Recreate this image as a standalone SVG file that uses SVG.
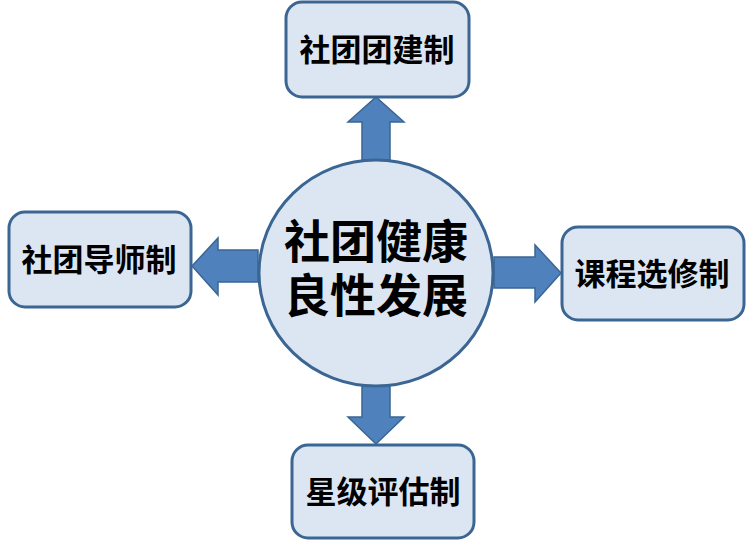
<svg xmlns="http://www.w3.org/2000/svg" width="756" height="541" viewBox="0 0 756 541">
<style>
.box{fill:#dce6f2;stroke:#3b6693;stroke-width:3}
.arr{fill:#4f81bd;stroke:#3b6693;stroke-width:1.5}
.t{font-family:"Noto Sans CJK SC","Noto Sans",sans-serif;font-weight:bold;fill:#000;text-anchor:middle}
.s{font-size:31px}
.c{font-size:46px}
</style>
<rect width="756" height="541" fill="#fff"/>
<g id="connectors">
<polygon class="arr" points="362,160 362,122 348,122 376,97 404,122 390,122 390,160"/>
<polygon class="arr" points="258,250 218,250 218,238 192,266 218,295 218,282 258,282"/>
<polygon class="arr" points="494,257 535,257 535,245 561,273 535,302 535,288 494,288"/>
<polygon class="arr" points="362,384 362,417 348,417 376,444 404,417 390,417 390,384"/>
</g>
<g id="center">
<ellipse class="box" cx="376" cy="273" rx="117" ry="113"/>
<text class="t c"><tspan x="376" y="258">社团健康</tspan><tspan x="376" y="312">良性发展</tspan></text>
</g>
<g id="top">
<rect class="box" x="286" y="2" width="183" height="95" rx="16"/>
<text class="t s" x="377" y="61">社团团建制</text>
</g>
<g id="left">
<rect class="box" x="9" y="212" width="182" height="95" rx="16"/>
<text class="t s" x="99" y="271">社团导师制</text>
</g>
<g id="right">
<rect class="box" x="562" y="227" width="182" height="93" rx="16"/>
<text class="t s" x="652" y="285">课程选修制</text>
</g>
<g id="bottom">
<rect class="box" x="292" y="445" width="182" height="93" rx="16"/>
<text class="t s" x="383" y="503">星级评估制</text>
</g>
</svg>
